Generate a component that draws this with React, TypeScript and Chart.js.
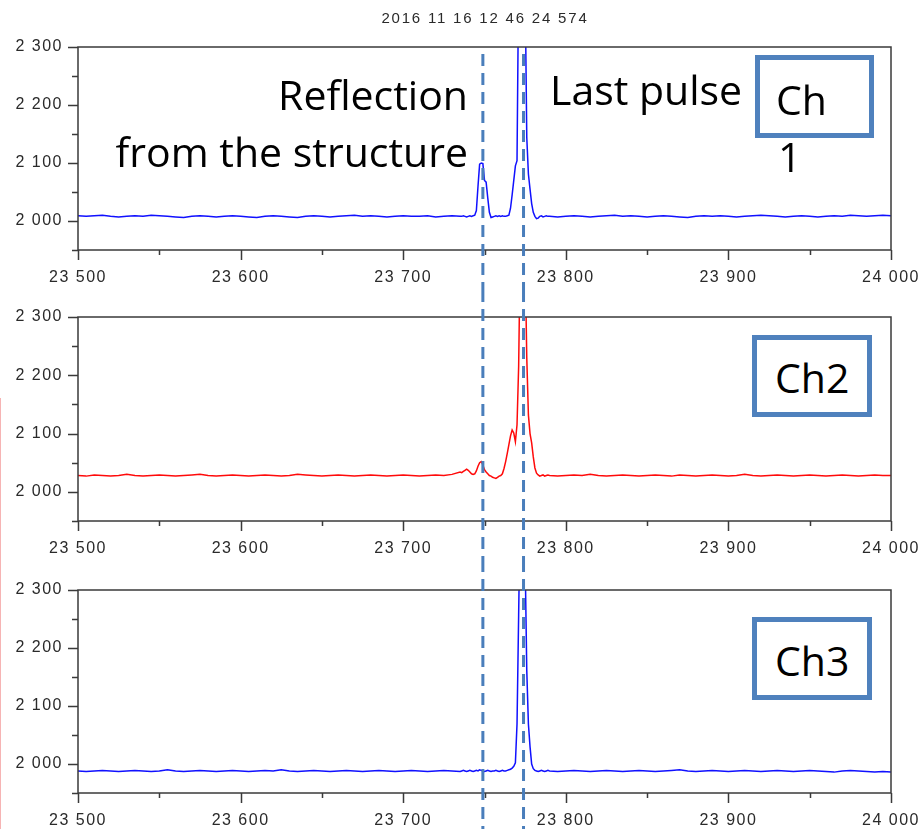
import React, { useEffect, useRef } from "react";
import { Chart, registerables } from "chart.js";
Chart.register(...registerables);

// ---- data ----
const sampleX = [
  23500, 23505, 23510, 23515, 23520, 23525, 23530, 23535, 23540, 23545,
  23550, 23555, 23560, 23565, 23570, 23575, 23580, 23585, 23590, 23595,
  23600, 23605, 23610, 23615, 23620, 23625, 23630, 23635, 23640, 23645,
  23650, 23655, 23660, 23665, 23670, 23675, 23680, 23685, 23690, 23695,
  23700, 23705, 23710, 23715, 23720, 23725, 23730, 23735,
  23736, 23737, 23738, 23739, 23740, 23741, 23742, 23743, 23744, 23745,
  23746, 23747, 23748, 23749, 23750, 23751, 23752, 23753, 23754, 23755,
  23756, 23757, 23758, 23759, 23760, 23761, 23762, 23763, 23764, 23765,
  23766, 23767, 23768, 23769, 23770, 23771, 23772, 23773, 23774, 23775,
  23776, 23777, 23778, 23779, 23780, 23781, 23782, 23783, 23784, 23785,
  23786, 23787, 23788, 23789,
  23790, 23795, 23800, 23805, 23810, 23815, 23820, 23825, 23830, 23835,
  23840, 23845, 23850, 23855, 23860, 23865, 23870, 23875, 23880, 23885,
  23890, 23895, 23900, 23905, 23910, 23915, 23920, 23925, 23930, 23935,
  23940, 23945, 23950, 23955, 23960, 23965, 23970, 23975, 23980, 23985,
  23990, 23995, 24000,
];

const ch1Values = [
  2009, 2008, 2009, 2010, 2008, 2007, 2008, 2009, 2008, 2010,
  2009, 2008, 2007, 2006, 2008, 2009, 2008, 2007, 2008, 2009,
  2008, 2007, 2006, 2008, 2009, 2008, 2007, 2006, 2008, 2009,
  2008, 2007, 2008, 2009, 2010, 2008, 2009, 2008, 2007, 2008,
  2009, 2008, 2008, 2009, 2007, 2008, 2009, 2008,
  2008, 2009, 2008, 2007, 2008, 2009, 2008, 2009, 2010, 2018,
  2060, 2098, 2100, 2099, 2070, 2067, 2040, 2015, 2006, 2007,
  2008, 2009, 2008, 2009, 2008, 2009, 2008, 2008, 2009, 2010,
  2022, 2045, 2070, 2095, 2104, 2420, 2500, 2500, 2480, 2400,
  2144, 2081, 2055, 2030, 2015, 2008, 2004, 2005, 2008, 2009,
  2007, 2008, 2009, 2008,
  2008, 2007, 2008, 2009, 2008, 2007, 2008, 2009, 2010, 2008,
  2009, 2008, 2007, 2008, 2009, 2008, 2007, 2006, 2008, 2009,
  2008, 2009, 2008, 2007, 2008, 2009, 2010, 2009, 2008, 2007,
  2008, 2009, 2008, 2007, 2008, 2009, 2008, 2010, 2009, 2008,
  2009, 2010, 2009,
];

const ch2Values = [
  2028, 2027, 2029, 2028, 2027, 2028, 2030, 2028, 2027, 2028,
  2029, 2028, 2027, 2028, 2029, 2030, 2028, 2027, 2028, 2029,
  2028, 2027, 2028, 2029, 2028, 2027, 2028, 2030, 2029, 2028,
  2027, 2028, 2029, 2028, 2027, 2028, 2029, 2028, 2027, 2028,
  2029, 2028, 2027, 2028, 2029, 2028, 2030, 2034,
  2033, 2035, 2037, 2039, 2037, 2034, 2031, 2030, 2031, 2036,
  2044, 2050, 2052, 2046, 2038, 2034, 2031, 2028, 2027, 2025,
  2024, 2023, 2025, 2027, 2028, 2031, 2040, 2052, 2066, 2081,
  2096, 2106, 2101, 2086, 2115, 2215, 2420, 2480, 2460, 2400,
  2230, 2132, 2100, 2084, 2060, 2041, 2032, 2029, 2027, 2028,
  2029, 2027, 2028, 2029,
  2028, 2027, 2028, 2029, 2028, 2030, 2028, 2027, 2028, 2029,
  2028, 2027, 2028, 2029, 2028, 2027, 2029, 2028, 2027, 2028,
  2029, 2028, 2027, 2028, 2030, 2028, 2027, 2028, 2029, 2028,
  2027, 2028, 2029, 2028, 2027, 2028, 2029, 2028, 2027, 2028,
  2029, 2028, 2028,
];

const ch3Values = [
  1988, 1987, 1988, 1989, 1988, 1987, 1988, 1989, 1988, 1987,
  1988, 1990, 1988, 1987, 1988, 1989, 1988, 1987, 1988, 1989,
  1988, 1987, 1988, 1989, 1988, 1990, 1988, 1987, 1988, 1989,
  1988, 1987, 1988, 1989, 1988, 1987, 1988, 1989, 1988, 1987,
  1988, 1989, 1988, 1987, 1988, 1989, 1988, 1987,
  1988, 1989, 1988, 1987, 1988, 1989, 1988, 1987, 1988, 1989,
  1988, 1990, 1989, 1988, 1987, 1988, 1989, 1988, 1987, 1988,
  1988, 1989, 1988, 1987, 1988, 1989, 1988, 1988, 1989, 1990,
  1991, 1993, 1996, 2002, 2069, 2257, 2450, 2500, 2480, 2350,
  2161, 2069, 2030, 2000, 1992, 1989, 1988, 1987, 1988, 1989,
  1988, 1987, 1988, 1989,
  1988, 1987, 1988, 1989, 1988, 1987, 1988, 1989, 1988, 1987,
  1988, 1989, 1988, 1987, 1988, 1989, 1990, 1988, 1987, 1988,
  1989, 1988, 1987, 1988, 1989, 1988, 1987, 1988, 1989, 1988,
  1987, 1988, 1989, 1988, 1987, 1986, 1988, 1989, 1988, 1987,
  1986, 1987, 1986,
];

const xMajorTicks = [23500, 23600, 23700, 23800, 23900, 24000];
const xMinorTicks = [23550, 23650, 23750, 23850, 23950];
const yMajorTicks = [2000, 2100, 2200, 2300];
const yMinorTicks = [1950, 2050, 2150, 2250];
const markerX = [23749, 23774];
const titleText = "2016 11 16 12 46 24 574";

function fmt(v: number) {
  const t = Math.floor(v / 1000);
  const r = String(Math.round(v % 1000)).padStart(3, "0");
  return t + " " + r;
}

const framePlugin = {
  id: "frame",
  beforeDraw(chart: any) {
    (chart.ctx as any).letterSpacing = "1.5px";
  },
  afterDraw(chart: any, _args: any, opts: any) {
    const ctx = chart.ctx;
    const { left, right, top, bottom } = chart.chartArea;
    const xs = chart.scales.x;
    const ys = chart.scales.y;
    ctx.save();
    ctx.strokeStyle = "#3a3a3a";
    ctx.lineWidth = 1.5;
    ctx.strokeRect(left, top, right - left, bottom - top);
    ctx.beginPath();
    yMajorTicks.forEach((v) => {
      const p = Math.round(ys.getPixelForValue(v)) + 0.5;
      ctx.moveTo(left - 10, p);
      ctx.lineTo(left, p);
    });
    yMinorTicks.forEach((v) => {
      const p = Math.round(ys.getPixelForValue(v)) + 0.5;
      ctx.moveTo(left - 6, p);
      ctx.lineTo(left, p);
    });
    xMajorTicks.forEach((v) => {
      const p = Math.round(xs.getPixelForValue(v)) + 0.5;
      ctx.moveTo(p, bottom);
      ctx.lineTo(p, bottom + 10);
    });
    xMinorTicks.forEach((v) => {
      const p = Math.round(xs.getPixelForValue(v)) + 0.5;
      ctx.moveTo(p, bottom);
      ctx.lineTo(p, bottom + 5);
    });
    ctx.stroke();
    ctx.restore();

    ctx.save();
    ctx.setLineDash([12, 7]);
    ctx.strokeStyle = "#4a7ebb";
    ctx.lineWidth = 3;
    ctx.beginPath();
    markerX.forEach((v) => {
      const p = xs.getPixelForValue(v);
      ctx.moveTo(p, opts.dashTop || 0);
      ctx.lineTo(p, chart.height);
    });
    ctx.stroke();
    ctx.restore();
  },
};

function Panel(props: {
  values: number[];
  color: string;
  top: number;
  height: number;
  padTop: number;
  axisH: number;
  dashTop: number;
}) {
  const ref = useRef<HTMLCanvasElement>(null);
  useEffect(() => {
    const tickFont = { family: "'Liberation Sans', Arial, sans-serif", size: 16 };
    const chart = new Chart(ref.current as HTMLCanvasElement, {
      type: "line",
      data: {
        datasets: [
          {
            data: sampleX.map((xv, i) => ({ x: xv, y: props.values[i] })),
            borderColor: props.color,
            borderWidth: 1.5,
            pointRadius: 0,
            tension: 0,
            fill: false,
          },
        ],
      },
      options: {
        animation: false,
        responsive: false,
        devicePixelRatio: 1,
        layout: { padding: { top: props.padTop, right: 33, left: 0, bottom: 0 } },
        plugins: {
          legend: { display: false },
          tooltip: { enabled: false },
          frame: { dashTop: props.dashTop },
        } as any,
        scales: {
          x: {
            type: "linear",
            min: 23500,
            max: 24000,
            afterBuildTicks: (a: any) => {
              a.ticks = xMajorTicks.map((v) => ({ value: v }));
            },
            afterFit: (a: any) => {
              a.height = props.axisH;
            },
            grid: {
              display: true,
              drawOnChartArea: false,
              drawTicks: true,
              tickLength: 10,
              color: "rgba(0,0,0,0)",
            },
            border: { display: false },
            ticks: {
              callback: (v: any) => fmt(Number(v)),
              maxRotation: 0,
              autoSkip: false,
              padding: 8,
              color: "#2a2a2a",
              font: tickFont,
            },
          },
          y: {
            type: "linear",
            min: 1950,
            max: 2300,
            afterBuildTicks: (a: any) => {
              a.ticks = yMajorTicks.map((v) => ({ value: v }));
            },
            afterFit: (a: any) => {
              a.width = 78;
            },
            grid: {
              display: true,
              drawOnChartArea: false,
              drawTicks: true,
              tickLength: 10,
              color: "rgba(0,0,0,0)",
            },
            border: { display: false },
            ticks: {
              callback: (v: any) => fmt(Number(v)),
              padding: 5,
              color: "#2a2a2a",
              font: tickFont,
            },
          },
        },
      } as any,
      plugins: [framePlugin as any],
    });
    return () => chart.destroy();
  }, []);
  return (
    <div style={{ position: "absolute", left: 0, top: props.top, width: 924, height: props.height }}>
      <canvas ref={ref} width={924} height={props.height} style={{ display: "block" }} />
    </div>
  );
}

const bigText: React.CSSProperties = {
  position: "absolute",
  fontFamily: "'Open Sans', sans-serif",
  fontSize: 41,
  lineHeight: "41px",
  color: "#000",
  whiteSpace: "nowrap",
};

const boxStyle: React.CSSProperties = {
  position: "absolute",
  boxSizing: "border-box",
  border: "5px solid #4f81bd",
  background: "#fff",
};

export default function App() {
  return (
    <div
      style={{
        position: "absolute",
        left: 0,
        top: 0,
        width: 924,
        height: 829,
        overflow: "hidden",
        background: "#fff",
      }}
    >
      <Panel values={ch1Values} color="#1010ff" top={0} height={290} padTop={47} axisH={40} dashTop={54} />
      <Panel values={ch2Values} color="#ff0a0a" top={290} height={270} padTop={27} axisH={39} dashTop={0} />
      <Panel values={ch3Values} color="#1010ff" top={560} height={269} padTop={30} axisH={36} dashTop={0} />

      <div
        style={{
          position: "absolute",
          left: 285,
          width: 400,
          top: 10,
          textAlign: "center",
          fontFamily: "'Liberation Sans', Arial, sans-serif",
          fontSize: 15,
          lineHeight: "15px",
          letterSpacing: "1.8px",
          color: "#2a2a2a",
        }}
      >
        {titleText}
      </div>

      <div style={{ ...bigText, right: 456, top: 74 }}>Reflection</div>
      <div style={{ ...bigText, right: 456, top: 131 }}>from the structure</div>
      <div style={{ ...bigText, left: 550, top: 69 }}>Last pulse</div>

      <div style={{ ...boxStyle, left: 755, top: 55, width: 119, height: 83 }} />
      <div style={{ ...bigText, left: 776, top: 79 }}>Ch</div>
      <div style={{ ...bigText, left: 778, top: 136 }}>1</div>

      <div style={{ ...boxStyle, left: 752, top: 335, width: 120, height: 82 }} />
      <div style={{ ...bigText, left: 775, top: 357 }}>Ch2</div>

      <div style={{ ...boxStyle, left: 752, top: 617, width: 120, height: 83 }} />
      <div style={{ ...bigText, left: 775, top: 640 }}>Ch3</div>

      <div style={{ position: "absolute", left: 0, top: 398, width: 1, height: 431, background: "#f6b4b4" }} />
    </div>
  );
}
